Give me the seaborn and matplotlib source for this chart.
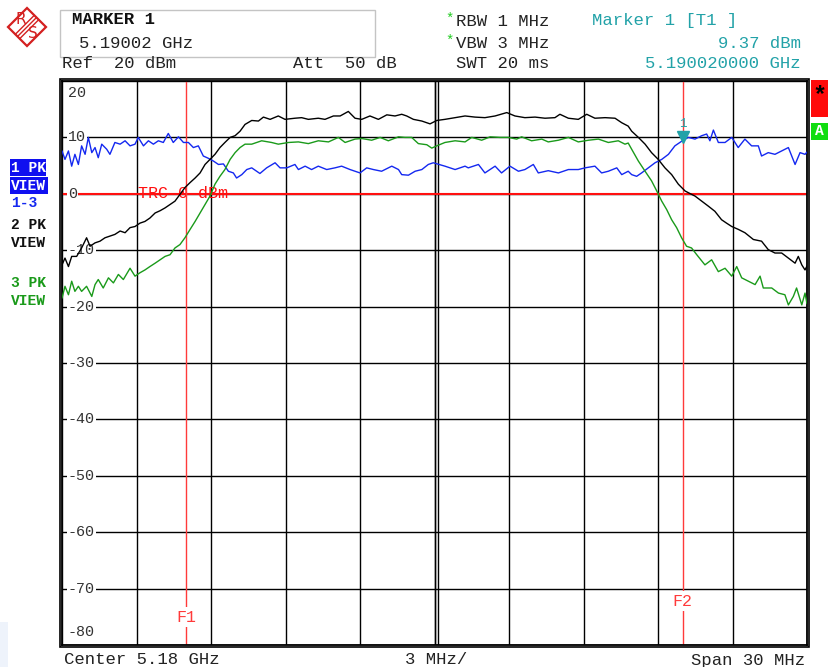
import numpy as np
import pandas as pd
import matplotlib
matplotlib.use("Agg")
import matplotlib.pyplot as plt
import matplotlib.transforms as mtransforms
from matplotlib.patches import Rectangle, Polygon
from matplotlib.lines import Line2D
import seaborn as sns

# ---------------- data ----------------
START_MHZ = 5165.0
STOP_MHZ = 5195.0
CENTER_MHZ = 5180.0
DIV_MHZ = 3.0
REF_DBM = 20
BOTTOM_DBM = -80
DIV_DB = 10
F1_MHZ = 5170.0
F2_MHZ = 5190.0
TRC_DBM = 0
MARKER_MHZ = 5190.02
MARKER_DBM = 9.37
y_tick_labels = ["20", "10", "0", "-10", "-20", "-30", "-40", "-50", "-60", "-70", "-80"]

# trace 1 (blue) - frequency offset from start (MHz) and level (dBm)
blue_off = [0.00, 0.12, 0.26, 0.39, 0.52, 0.66, 0.79, 0.93, 1.06, 1.20,
            1.33, 1.46, 1.60, 1.80, 1.93, 2.13, 2.34, 2.54, 2.74, 2.94,
            3.07, 3.28, 3.48, 3.68, 3.88, 4.08, 4.28, 4.48, 4.69, 4.89,
            5.09, 5.29, 5.49, 5.69, 5.89, 6.10, 6.30, 6.50, 6.70, 6.90,
            7.03, 7.24, 7.44, 7.64, 7.97, 8.24, 8.58, 8.78, 9.05, 9.38,
            9.52, 9.79, 10.05, 10.32, 10.66, 10.99, 11.26, 11.60, 12.00, 12.27,
            12.54, 12.87, 13.28, 13.55, 13.68, 13.95, 14.22, 14.49, 14.75, 14.95,
            15.42, 15.83, 16.23, 16.36, 16.77, 17.03, 17.44, 17.70, 18.04, 18.38,
            18.64, 18.98, 19.18, 19.58, 19.99, 20.39, 20.79, 21.06, 21.46, 21.73,
            22.00, 22.34, 22.54, 22.80, 22.94, 23.14, 23.34, 23.61, 23.88, 24.15,
            24.42, 24.68, 24.98, 25.22, 25.49, 25.76, 25.96, 26.09, 26.23, 26.43,
            26.70, 26.97, 27.23, 27.50, 27.77, 28.04, 28.17, 28.44, 28.71, 28.98,
            29.25, 29.52, 29.72, 29.92, 30.00]
blue_lvl = [7.6, 6.1, 7.6, 4.9, 7.0, 5.2, 8.5, 7.0, 10.0, 7.3,
            8.2, 6.4, 8.8, 7.9, 7.0, 9.1, 8.8, 9.4, 8.5, 8.8,
            10.0, 8.5, 9.4, 8.8, 9.4, 9.1, 10.7, 9.1, 10.1, 9.1,
            9.1, 8.2, 8.5, 6.7, 6.3, 5.8, 5.2, 5.3, 4.0, 3.7,
            2.8, 3.4, 4.3, 4.6, 3.6, 4.6, 5.5, 4.6, 4.6, 5.2,
            4.3, 4.9, 4.3, 4.9, 4.3, 4.6, 4.9, 4.3, 3.7, 4.6,
            4.3, 4.0, 4.9, 4.3, 3.4, 3.3, 4.0, 4.3, 5.2, 5.5,
            4.9, 4.3, 4.9, 4.6, 5.2, 3.7, 4.9, 3.7, 4.9, 4.0,
            4.3, 5.2, 3.7, 4.1, 3.7, 4.3, 4.3, 4.6, 4.9, 3.7,
            4.0, 4.6, 3.4, 4.0, 3.4, 3.1, 3.7, 4.6, 5.5, 6.1,
            7.0, 8.5, 9.4, 10.0, 9.7, 10.3, 10.6, 9.4, 11.3, 9.1,
            9.1, 10.0, 8.2, 9.7, 8.5, 8.5, 6.7, 7.3, 7.0, 7.6,
            8.2, 5.2, 7.3, 7.0, 7.4]

# trace 2 (black)
black_off = [0.00, 0.12, 0.26, 0.39, 0.59, 0.79, 0.99, 1.13, 1.33, 1.53,
             1.73, 1.93, 2.13, 2.34, 2.54, 2.74, 2.94, 3.14, 3.34, 3.54,
             3.75, 3.95, 4.15, 4.35, 4.55, 4.75, 4.95, 5.16, 5.36, 5.56,
             5.76, 5.96, 6.16, 6.36, 6.56, 6.77, 6.97, 7.17, 7.37, 7.64,
             7.91, 8.11, 8.38, 8.71, 8.98, 9.38, 9.65, 9.92, 10.32, 10.59,
             10.93, 11.20, 11.53, 11.80, 12.07, 12.40, 12.74, 13.08, 13.41, 13.68,
             13.88, 14.15, 14.49, 14.82, 15.09, 15.42, 15.83, 16.23, 16.63, 17.03,
             17.44, 17.91, 18.24, 18.64, 19.05, 19.45, 19.85, 20.05, 20.39, 20.79,
             21.13, 21.46, 21.87, 22.27, 22.54, 22.80, 22.94, 23.21, 23.48, 23.74,
             24.01, 24.28, 24.55, 24.82, 25.09, 25.35, 25.49, 25.76, 26.03, 26.29,
             26.56, 26.76, 26.97, 27.23, 27.50, 27.84, 28.17, 28.44, 28.71, 28.98,
             29.25, 29.52, 29.65, 29.79, 29.92, 30.00]
black_lvl = [-12.6, -11.4, -12.9, -11.1, -11.1, -9.6, -7.8, -9.3, -8.7, -8.4,
             -7.8, -7.5, -7.2, -6.6, -6.9, -6.0, -5.8, -5.2, -4.9, -4.3,
             -3.4, -3.0, -2.5, -1.9, -1.3, -0.1, 1.1, 2.0, 2.8, 3.7,
             5.2, 6.1, 7.0, 8.2, 9.1, 10.0, 10.3, 11.1, 12.3, 13.0,
             12.9, 13.6, 13.2, 13.8, 13.2, 13.4, 13.5, 13.2, 13.4, 13.2,
             13.8, 13.8, 14.6, 13.4, 13.2, 13.8, 13.2, 14.0, 13.8, 14.1,
             13.8, 13.2, 12.9, 12.4, 13.0, 13.2, 13.5, 13.8, 13.6, 13.5,
             13.8, 14.4, 13.8, 13.5, 13.6, 13.4, 13.5, 14.1, 13.4, 13.2,
             14.1, 13.4, 13.5, 13.4, 12.6, 12.0, 11.1, 10.0, 8.8, 7.3,
             6.1, 4.6, 3.4, 1.7, 0.5, -0.1, -0.4, -1.3, -2.2, -3.1,
             -4.6, -5.2, -5.8, -6.3, -6.9, -8.1, -8.4, -9.9, -10.5, -10.5,
             -11.4, -12.3, -11.1, -12.6, -13.5, -12.8]

# trace 3 (green)
green_off = [0.00, 0.12, 0.26, 0.39, 0.52, 0.66, 0.79, 0.99, 1.20, 1.33,
             1.46, 1.66, 1.87, 2.07, 2.27, 2.47, 2.74, 2.94, 3.14, 3.34,
             3.54, 3.75, 3.95, 4.15, 4.35, 4.55, 4.75, 4.95, 5.16, 5.36,
             5.56, 5.76, 5.96, 6.16, 6.36, 6.56, 6.77, 6.97, 7.17, 7.37,
             7.64, 8.04, 8.44, 8.71, 9.12, 9.52, 9.92, 10.32, 10.73, 11.13,
             11.40, 11.80, 12.07, 12.47, 12.81, 13.14, 13.55, 13.81, 14.08, 14.35,
             14.69, 14.89, 15.09, 15.42, 15.83, 16.23, 16.50, 16.90, 17.24, 17.64,
             17.97, 18.31, 18.51, 18.91, 19.32, 19.58, 19.99, 20.39, 20.79, 21.20,
             21.60, 22.00, 22.40, 22.67, 22.80, 22.94, 23.21, 23.48, 23.74, 23.95,
             24.15, 24.35, 24.55, 24.75, 24.95, 25.15, 25.35, 25.56, 25.89, 26.16,
             26.43, 26.70, 26.97, 27.17, 27.37, 27.64, 27.91, 28.11, 28.24, 28.58,
             28.85, 29.11, 29.25, 29.45, 29.58, 29.79, 29.92, 30.00]
green_lvl = [-18.5, -16.4, -17.9, -15.5, -17.3, -16.4, -17.3, -16.4, -18.2, -16.1,
             -15.2, -16.7, -14.9, -15.8, -14.3, -15.2, -13.2, -14.6, -14.0, -13.5,
             -12.9, -12.3, -11.7, -11.1, -10.8, -9.6, -9.0, -7.8, -6.3, -4.9,
             -3.4, -1.9, -0.4, 1.7, 3.1, 4.3, 6.1, 7.3, 8.2, 8.8,
             8.8, 9.4, 9.1, 8.8, 9.1, 9.2, 8.9, 9.4, 9.2, 10.0,
             9.1, 9.7, 9.8, 9.5, 10.0, 9.4, 10.1, 10.0, 10.0, 8.9,
             8.7, 8.1, 8.5, 9.1, 9.4, 9.2, 10.0, 9.5, 10.1, 10.0,
             10.0, 9.7, 10.1, 9.4, 9.7, 9.2, 9.5, 10.0, 9.2, 9.5,
             9.7, 9.1, 9.4, 8.8, 9.0, 7.9, 5.8, 4.0, 2.3, 0.5,
             -1.3, -2.8, -4.6, -6.0, -7.8, -9.3, -9.6, -10.8, -12.6, -11.7,
             -13.8, -13.2, -14.6, -12.9, -14.9, -15.5, -16.1, -14.6, -16.7, -16.7,
             -17.6, -17.9, -19.7, -18.2, -16.7, -19.7, -17.6, -19.5]

# ---------------- style ----------------
sns.set_theme(style="white")
MONO = ["Liberation Mono", "DejaVu Sans Mono"]
plt.rcParams["font.family"] = MONO

BLUE = "#1428f0"
BLACK = "#000000"
GREEN = "#1a9a1a"
RED = "#ff1010"
TEAL = "#22a2a8"
GREY_TXT = "#333333"

W, H = 829, 667
fig = plt.figure(figsize=(W / 100, H / 100), dpi=100)
fig.patch.set_facecolor("white")


def fx(px):
    return px / W


def fy(py):
    return 1 - py / H


L, R, T, B = 62, 807, 81, 645
ax = fig.add_axes([fx(L), fy(B), (R - L) / W, (B - T) / H])
ax.set_xlim(START_MHZ, STOP_MHZ)
ax.set_ylim(BOTTOM_DBM, REF_DBM)
ax.set_xticks(np.arange(START_MHZ, STOP_MHZ + 0.01, DIV_MHZ))
ax.set_yticks(np.arange(BOTTOM_DBM, REF_DBM + 1, DIV_DB))
ax.tick_params(length=0, labelbottom=False, labelleft=False)
ax.grid(True, color="black", lw=1.0)
ax.set_axisbelow(True)
for s in ax.spines.values():
    s.set_color("black")
    s.set_linewidth(1.3)

# double centre line
px_shift = mtransforms.ScaledTranslation(3 / 100, 0, fig.dpi_scale_trans)
ax.axvline(CENTER_MHZ, color="black", lw=1.0, zorder=1)
ax.plot([CENTER_MHZ, CENTER_MHZ], [0, 1], color="black", lw=1.0, zorder=1,
        transform=ax.get_xaxis_transform() + px_shift)

# outer border (double frame)
fig.add_artist(Rectangle((fx(L - 2), fy(B + 2)), (R - L + 4) / W, (B - T + 4) / H,
                         transform=fig.transFigure, fill=False, ec="black", lw=1.2))

# y labels inside plot
yvals = np.arange(REF_DBM, BOTTOM_DBM - 1, -DIV_DB)
for v, lab in zip(yvals, y_tick_labels):
    if v == REF_DBM:
        va, dy = "top", -5
    elif v == BOTTOM_DBM:
        va, dy = "bottom", 6
    else:
        va, dy = "center", 0
    ax.annotate(lab, xy=(START_MHZ, v), xytext=(6, dy), textcoords="offset pixels",
                ha="left", va=va, fontsize=10.8, color=GREY_TXT, zorder=3,
                bbox=dict(boxstyle="square,pad=0.05", fc="white", ec="none"))

# display line and frequency lines
ax.axhline(TRC_DBM, color=RED, lw=1.5, zorder=2)
ax.annotate("TRC 0 dBm", xy=(START_MHZ, TRC_DBM), xytext=(76, 0), textcoords="offset pixels",
            ha="left", va="center", fontsize=12, color=RED, zorder=2)
for f, lab, ypx in [(F1_MHZ, "F1", 617), (F2_MHZ, "F2", 601)]:
    ax.axvline(f, color="#ff3a3a", lw=1.0, zorder=2)
    ax.text(f, (B - ypx) / (B - T), lab, transform=ax.get_xaxis_transform(),
            ha="center", va="center", fontsize=12, color="#ff3a3a", zorder=3,
            bbox=dict(boxstyle="square,pad=0.15", fc="white", ec="none"))

# traces
df = pd.concat([
    pd.DataFrame({"freq": START_MHZ + np.array(blue_off), "level": blue_lvl, "trace": "1"}),
    pd.DataFrame({"freq": START_MHZ + np.array(black_off), "level": black_lvl, "trace": "2"}),
    pd.DataFrame({"freq": START_MHZ + np.array(green_off), "level": green_lvl, "trace": "3"}),
], ignore_index=True)
sns.lineplot(data=df, x="freq", y="level", hue="trace",
             palette={"1": BLUE, "2": BLACK, "3": GREEN},
             estimator=None, sort=False, legend=False, lw=1.0, ax=ax, zorder=5)
ax.set_xlabel("")
ax.set_ylabel("")

# marker
up = mtransforms.ScaledTranslation(0, 4 / 100, fig.dpi_scale_trans)
ax.plot([MARKER_MHZ], [MARKER_DBM], marker="v", ms=8, color=TEAL, mec=TEAL,
        transform=ax.transData + up, zorder=6, clip_on=False)
ax.annotate("1", xy=(MARKER_MHZ, MARKER_DBM), xytext=(0, 17), textcoords="offset pixels",
            ha="center", va="center", fontsize=9, color=TEAL, zorder=6)

# ---------------- header ----------------
FS = 12.4
fig.add_artist(Rectangle((fx(60), fy(57)), 315 / W, 47 / H, transform=fig.transFigure,
                         fill=False, ec="#c4c4c4", lw=1.0))
fig.text(fx(72), fy(20), "MARKER 1", ha="left", va="center", fontsize=FS, weight="bold", color="#111111")
fig.text(fx(79), fy(44), "5.19002 GHz", ha="left", va="center", fontsize=FS, color="#222222")
fig.text(fx(62), fy(64), "Ref  20 dBm", ha="left", va="center", fontsize=FS, color="#222222")
fig.text(fx(293), fy(64), "Att  50 dB", ha="left", va="center", fontsize=FS, color="#222222")
fig.text(fx(445), fy(19), "*", ha="left", va="center", fontsize=10, color="#22cc22")
fig.text(fx(445), fy(41), "*", ha="left", va="center", fontsize=10, color="#22cc22")
fig.text(fx(456), fy(21), "RBW 1 MHz", ha="left", va="center", fontsize=FS, color="#222222")
fig.text(fx(456), fy(43), "VBW 3 MHz", ha="left", va="center", fontsize=FS, color="#222222")
fig.text(fx(456), fy(64), "SWT 20 ms", ha="left", va="center", fontsize=FS, color="#222222")
fig.text(fx(592), fy(21), "Marker 1 [T1 ]", ha="left", va="center", fontsize=FS, color=TEAL)
fig.text(fx(801), fy(43), "9.37 dBm", ha="right", va="center", fontsize=FS, color=TEAL)
fig.text(fx(801), fy(64), "5.190020000 GHz", ha="right", va="center", fontsize=FS, color=TEAL)

# footer
fig.text(fx(64), fy(660), "Center 5.18 GHz", ha="left", va="center", fontsize=FS, color="#222222")
fig.text(fx(405), fy(660), "3 MHz/", ha="left", va="center", fontsize=FS, color="#222222")
fig.text(fx(805), fy(660), "Span 30 MHz", ha="right", va="center", fontsize=FS, color="#222222")

# R&S logo
LRED = "#d42020"
cx, cy, r = 27, 27, 19
fig.add_artist(Polygon([(fx(cx), fy(cy - r)), (fx(cx + r), fy(cy)), (fx(cx), fy(cy + r)),
                        (fx(cx - r), fy(cy))], closed=True, transform=fig.transFigure,
                       fill=False, ec=LRED, lw=1.6))
for d in (-2.2, 0, 2.2):
    fig.add_artist(Line2D([fx(cx + 9.5 + d), fx(cx - 9.5 + d)], [fy(cy - 9.5 + d), fy(cy + 9.5 + d)],
                          transform=fig.transFigure, color=LRED, lw=1.0))
fig.text(fx(21), fy(20), "R", ha="center", va="center", fontsize=11, color=LRED,
         family=["DejaVu Sans"])
fig.text(fx(33), fy(34), "S", ha="center", va="center", fontsize=11, color=LRED,
         family=["DejaVu Sans"])

# left trace labels
LFS = 10.5
fig.add_artist(Rectangle((fx(10), fy(176)), 36 / W, 17 / H, transform=fig.transFigure,
                         fc="#1010f0", ec="none"))
fig.add_artist(Rectangle((fx(10), fy(194)), 38 / W, 17 / H, transform=fig.transFigure,
                         fc="#1010f0", ec="none"))
fig.text(fx(11), fy(167.5), "1 PK", ha="left", va="center", fontsize=LFS, weight="bold", color="white")
fig.text(fx(11), fy(185.5), "VIEW", ha="left", va="center", fontsize=LFS, weight="bold", color="white")
fig.text(fx(11), fy(203), "1-3", ha="left", va="center", fontsize=LFS, weight="bold", color=BLUE)
fig.text(fx(11), fy(225), "2 PK", ha="left", va="center", fontsize=LFS, weight="bold", color="#111111")
fig.text(fx(11), fy(243), "VIEW", ha="left", va="center", fontsize=LFS, weight="bold", color="#111111")
fig.text(fx(11), fy(283), "3 PK", ha="left", va="center", fontsize=LFS, weight="bold", color=GREEN)
fig.text(fx(11), fy(301), "VIEW", ha="left", va="center", fontsize=LFS, weight="bold", color=GREEN)

# right status boxes
fig.add_artist(Rectangle((fx(811), fy(117)), 18 / W, 37 / H, transform=fig.transFigure,
                         fc="#ff0a0a", ec="none"))
fig.text(fx(820), fy(96), "*", ha="center", va="center", fontsize=17, weight="bold", color="black")
fig.add_artist(Rectangle((fx(811), fy(140)), 18 / W, 17 / H, transform=fig.transFigure,
                         fc="#10dd10", ec="none"))
fig.text(fx(815), fy(131), "A", ha="left", va="center", fontsize=LFS, weight="bold", color="white")

# pale corner patch
fig.add_artist(Rectangle((0, 0), 8 / W, 45 / H, transform=fig.transFigure,
                         fc="#eef3fb", ec="none"))

fig.savefig("out.png", dpi=100)
